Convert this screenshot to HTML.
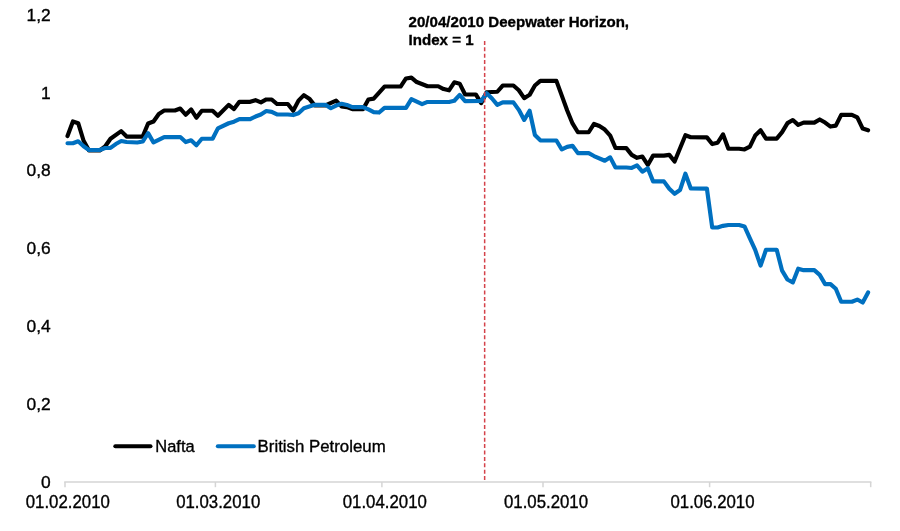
<!DOCTYPE html>
<html lang="en">
<head>
<meta charset="utf-8">
<title>Nafta vs British Petroleum</title>
<style>
html,body{margin:0;padding:0;background:#fff;}
body{width:900px;height:531px;overflow:hidden;}
svg{display:block;}
text{font-family:"Liberation Sans",Arial,sans-serif;font-size:17px;fill:#000;stroke:#000;stroke-width:0.35px;paint-order:stroke;}
.ann{font-weight:bold;font-size:15.4px;}
.xl{font-size:17.7px;}
.yl{font-size:17.4px;}
</style>
</head>
<body>
<svg width="900" height="531" viewBox="0 0 900 531">
<rect width="900" height="531" fill="#fff"/>
<g stroke="#d5d5d5" stroke-width="1.5" fill="none">
<line x1="64.2" y1="482.0" x2="871.4" y2="482.0"/>
<line x1="65.0" y1="482.0" x2="65.0" y2="487.2"/><line x1="215.4" y1="482.0" x2="215.4" y2="487.2"/><line x1="381.9" y1="482.0" x2="381.9" y2="487.2"/><line x1="543.0" y1="482.0" x2="543.0" y2="487.2"/><line x1="709.6" y1="482.0" x2="709.6" y2="487.2"/><line x1="870.7" y1="482.0" x2="870.7" y2="487.2"/>
</g>
<polyline transform="translate(0.1 0.45)" fill="none" stroke="#000" stroke-width="4.15" stroke-linejoin="round" stroke-linecap="round" points="67.4,135.6 72.8,121 78.1,122.7 83.5,140.3 88.9,150 99.6,150 105.0,146.1 110.4,138.3 121.1,130.7 126.5,136.1 142.6,136.1 148.0,123 153.4,121 158.7,113.5 164.1,110.1 174.8,110.1 180.2,108.1 185.6,114.3 191.0,109.0 196.3,117.3 201.7,110.3 212.5,110.3 217.8,115.3 228.6,104.4 233.9,108.6 239.3,101.4 250.1,101.4 255.4,99.7 260.8,101.9 266.2,99 271.6,99 276.9,103.6 287.7,103.6 293.1,110.3 298.4,100.2 303.8,94.7 309.2,98.2 314.5,104.9 325.3,104.9 336.0,100.1 341.4,105.9 346.8,106.7 352.2,108.7 362.9,108.7 368.3,99 373.6,98.2 384.4,86.1 400.5,86.1 405.9,78 411.3,77.2 416.6,81.6 427.4,85.8 438.1,85.8 443.5,88.6 448.9,89.9 454.2,81.9 459.6,83.2 465.0,94 475.7,94 481.1,102.7 486.5,91.8 497.2,91.3 502.6,85.1 513.3,85.1 518.7,89.8 524.1,97.7 529.5,94.4 534.8,85.1 540.2,80.4 556.3,80.4 561.7,95.2 567.1,110 572.4,123 577.8,131.8 588.6,131.8 593.9,123.5 599.3,125.6 604.7,129.1 610.1,135.2 615.4,147.5 626.2,147.7 631.6,154.4 636.9,157.4 642.3,156.1 647.7,164.5 653.0,155.2 663.8,155.2 669.2,154.4 674.5,161.1 685.3,134.8 690.7,136.8 706.8,136.9 712.1,143.6 717.5,142.3 722.9,133.9 728.3,148.3 739.0,148.3 744.4,149 749.8,146.1 755.1,135.1 760.5,129.8 765.9,138.2 776.6,138.2 782.0,131.7 787.4,122.7 792.7,119.6 798.1,124.4 803.5,122.2 814.2,122.2 819.6,119 825.0,122.1 830.4,126.1 835.7,125.2 841.1,114.4 851.8,114.4 857.2,116.9 862.6,128.1 868.0,129.8"/>
<polyline transform="translate(0.1 0.45)" fill="none" stroke="#0070c0" stroke-width="4.15" stroke-linejoin="round" stroke-linecap="round" points="67.4,142.8 72.8,142.8 78.1,140.8 83.5,145.8 88.9,149.5 99.6,149.5 105.0,147.5 110.4,147.5 115.7,143.6 121.1,140.6 126.5,141.6 137.2,142 142.6,141.1 148.0,132.7 153.4,142 164.1,136.6 180.2,136.6 185.6,141.6 191.0,139.8 196.3,144.8 201.7,138.3 212.5,138.3 217.8,127.9 228.6,122.8 233.9,121.2 239.3,118.7 250.1,118.7 255.4,116.1 260.8,114 266.2,110.6 271.6,111.4 276.9,114 287.7,114 293.1,114.6 298.4,112.8 303.8,107.8 314.5,104.4 325.3,104.4 330.7,107.8 336.0,105.1 341.4,103.3 346.8,104.5 352.2,106.7 362.9,106.7 368.3,109 373.6,111.7 379.0,112.1 384.4,107.4 405.9,107.4 411.3,98.7 422.0,103.7 427.4,101.5 448.9,101.5 454.2,100.3 459.6,94.5 465.0,100.7 481.1,100.5 486.5,92.7 491.9,98 497.2,104.4 502.6,101.9 513.3,101.9 518.7,109.4 524.1,119.5 529.5,110.3 534.8,134.6 540.2,139.9 556.3,140 561.7,149 567.1,146.4 572.4,145.3 577.8,152.7 588.6,152.7 593.9,155.6 604.7,160.3 610.1,156.9 615.4,167 626.2,167 631.6,167.5 636.9,165 642.3,171.2 647.7,167.8 653.0,180.9 663.8,180.9 669.2,188.3 674.5,193.3 679.9,189.6 685.3,173.3 690.7,188 706.8,188.2 712.1,227 717.5,227 722.9,225.4 728.3,224.5 739.0,224.5 744.4,226 749.8,238 755.1,249.5 760.5,265.2 765.9,249.3 776.6,249.3 782.0,270.2 787.4,279.1 792.7,282 798.1,268.2 803.5,269.7 814.2,269.7 819.6,274.4 825.0,283.7 830.4,283.7 835.7,288.3 841.1,301.3 851.8,301.3 857.2,299.1 862.6,302.1 868.0,292"/>
<line x1="484.65" y1="40.9" x2="484.65" y2="481.2" stroke="#d4424a" stroke-width="1.5" stroke-dasharray="4 2.4"/>
<g><text x="50.7" y="20.75" class="yl" text-anchor="end">1,2</text><text x="50.7" y="98.57" class="yl" text-anchor="end">1</text><text x="50.7" y="176.39" class="yl" text-anchor="end">0,8</text><text x="50.7" y="254.21" class="yl" text-anchor="end">0,6</text><text x="50.7" y="332.03" class="yl" text-anchor="end">0,4</text><text x="50.7" y="409.85" class="yl" text-anchor="end">0,2</text><text x="50.7" y="487.67" class="yl" text-anchor="end">0</text></g>
<g><text transform="translate(67.8 508) scale(0.95 1)" class="xl" text-anchor="middle">01.02.2010</text><text transform="translate(218.2 508) scale(0.95 1)" class="xl" text-anchor="middle">01.03.2010</text><text transform="translate(384.8 508) scale(0.95 1)" class="xl" text-anchor="middle">01.04.2010</text><text transform="translate(546.0 508) scale(0.95 1)" class="xl" text-anchor="middle">01.05.2010</text><text transform="translate(712.5 508) scale(0.95 1)" class="xl" text-anchor="middle">01.06.2010</text></g>
<text class="ann" transform="translate(408.6 27.3) scale(0.98 1)">20/04/2010 Deepwater Horizon,</text>
<text class="ann" transform="translate(408.6 44.6) scale(0.98 1)">Index = 1</text>
<line x1="115.3" y1="446.3" x2="150.5" y2="446.3" stroke="#000" stroke-width="4" stroke-linecap="round"/>
<text transform="translate(155.3 451.7) scale(0.967 1)">Nafta</text>
<line x1="217.8" y1="446.3" x2="253.8" y2="446.3" stroke="#0070c0" stroke-width="4" stroke-linecap="round"/>
<text transform="translate(257.6 451.7) scale(0.99 1)">British Petroleum</text>
</svg>
</body>
</html>
